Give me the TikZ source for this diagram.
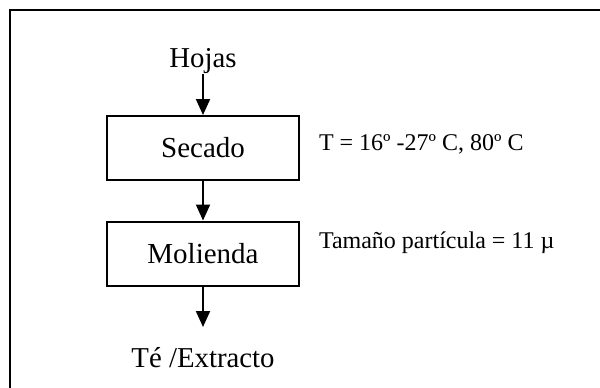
\documentclass[tikz,border=0pt]{standalone}
\usepackage{fontspec}
\setmainfont{Liberation Serif}
\usetikzlibrary{arrows.meta}
\begin{document}
\begin{tikzpicture}[x=0.5pt,y=-0.5pt,
  line width=1pt,
  arr/.style={-{Triangle[length=8pt,width=7pt]}},
  procbox/.style={draw,minimum width=96pt,minimum height=32pt,inner sep=0pt,font=\fontsize{14.5pt}{17pt}\selectfont},
  mainlabel/.style={inner sep=0pt,anchor=base,font=\fontsize{14.4pt}{17pt}\selectfont},
  note/.style={inner sep=0pt,anchor=base west,font=\fontsize{12pt}{14pt}\selectfont}]
\useasboundingbox (0,0) rectangle (600,387);
\clip (0,0) rectangle (600,387);
\draw (10,400) -- (10,10) -- (610,10);
\node[mainlabel] (hojas) at (203,67) {Hojas};
\node[procbox] (secado) at (203,148) {Secado};
\node[procbox] (molienda) at (203,253.5) {Molienda};
\node[mainlabel,text height=10pt] (te) at (203,367) {Té /Extracto};
\node[note] (tnote) at (318,150) {T = 16º -27º C, 80º C};
\node[note] (pnote) at (318,248) {Tamaño partícula = 11 µ};
\draw[arr] (hojas.south) -- (secado.north);
\draw[arr] (secado.south) -- (molienda.north);
\draw[arr,shorten >=9.5pt] (molienda.south) -- (te.north);
\end{tikzpicture}
\end{document}
